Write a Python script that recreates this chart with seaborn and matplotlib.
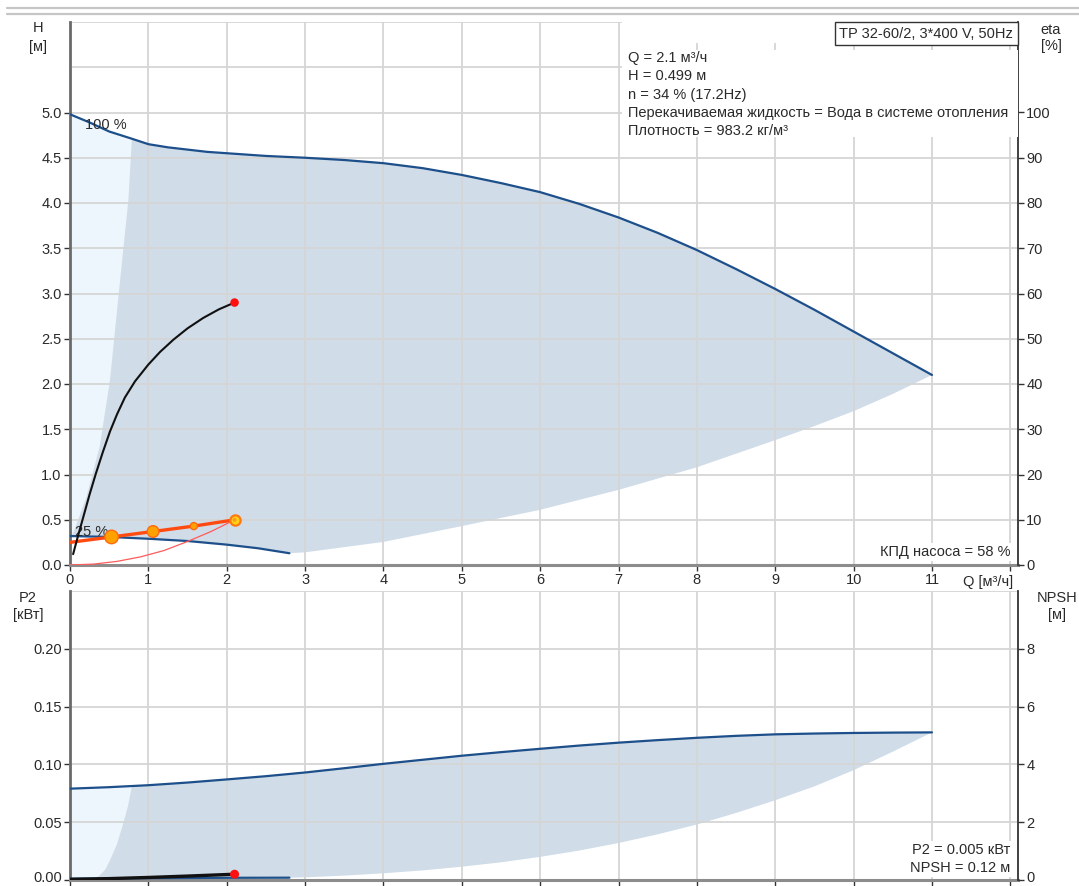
import matplotlib
matplotlib.use("Agg")
import numpy as np
import matplotlib.pyplot as plt
import seaborn as sns
from matplotlib.patches import Rectangle
from matplotlib.lines import Line2D
from matplotlib.transforms import ScaledTranslation

# ---------------- data ----------------
# Q-H curve at 100 % speed
q_100 = [0, 0.25, 0.5, 0.79, 1.0, 1.25, 1.5, 1.75, 2.0, 2.5, 3, 3.5, 4, 4.5, 5, 5.5,
         6, 6.5, 7, 7.5, 8, 8.5, 9, 9.5, 10, 10.5, 11]
h_100 = [4.98, 4.89, 4.79, 4.71, 4.65, 4.615, 4.59, 4.565, 4.55, 4.52, 4.50, 4.475,
         4.44, 4.385, 4.31, 4.22, 4.12, 3.99, 3.84, 3.67, 3.48, 3.27, 3.05, 2.82,
         2.58, 2.34, 2.10]
# Q-H curve at 25 % speed
q_25 = [0, 0.5, 1.0, 1.5, 2.0, 2.4, 2.8]
h_25 = [0.32, 0.31, 0.29, 0.265, 0.225, 0.185, 0.13]
# lower edge of the working range
q_min = [2.8, 3, 4, 5, 6, 7, 8, 9, 9.5, 10, 10.5, 11]
h_min = [0.13, 0.14, 0.255, 0.43, 0.61, 0.83, 1.08, 1.38, 1.535, 1.70, 1.89, 2.10]
# minimum-flow edge
q_edge = [0, 0.04, 0.21, 0.38, 0.51, 0.64, 0.745, 0.79]
h_edge = [0.32, 0.35, 0.75, 1.31, 2.04, 3.15, 4.03, 4.71]
# pump efficiency at the duty speed
q_eta = [0.04, 0.1, 0.16, 0.25, 0.33, 0.42, 0.51, 0.6, 0.7, 0.83, 1.0, 1.15, 1.32,
         1.5, 1.7, 1.9, 2.1]
eta = [2.4, 6.3, 10, 15.6, 20.2, 25, 29.5, 33.3, 37, 40.6, 44.3, 47.1, 49.8, 52.3,
       54.6, 56.5, 58]
# control curve and system curve
q_ctrl = [0, 0.53, 1.06, 1.58, 2.1]
h_ctrl = [0.25, 0.31, 0.37, 0.43, 0.499]
q_sys = [0, 0.3, 0.6, 0.9, 1.2, 1.5, 1.8, 2.1]
h_sys = [0, 0.01, 0.04, 0.09, 0.16, 0.26, 0.37, 0.499]

# duty point
q_op, h_op, eta_op, p2_op, npsh_op = 2.1, 0.499, 58, 0.005, 0.12

# P2 curves
q_p100 = [0, 0.5, 1, 1.5, 2, 2.5, 3, 3.5, 4, 4.5, 5, 5.5, 6, 6.5, 7, 7.5, 8, 8.5,
          9, 9.5, 10, 10.5, 11]
p_100 = [0.079, 0.0803, 0.082, 0.0843, 0.087, 0.0898, 0.093, 0.0967, 0.1005, 0.104,
         0.1075, 0.1106, 0.1135, 0.1163, 0.1188, 0.121, 0.123, 0.1247, 0.126, 0.1267,
         0.1272, 0.1275, 0.1277]
q_p25 = [0, 1, 2, 2.8]
p_25 = [0.0012, 0.0016, 0.0019, 0.002]
q_pmin = [2.8, 3, 3.5, 4, 4.5, 5, 5.5, 6, 6.5, 7, 7.5, 8, 8.5, 9, 9.5, 10, 10.5, 11]
p_min = [0.002, 0.0023, 0.0038, 0.0058, 0.0083, 0.0115, 0.0153, 0.020, 0.0255,
         0.032, 0.0395, 0.048, 0.058, 0.069, 0.081, 0.095, 0.111, 0.1277]
q_pedge = [0.26, 0.32, 0.38, 0.45, 0.51, 0.6, 0.68, 0.74, 0.79]
p_edge = [0.0, 0.0015, 0.004, 0.009, 0.017, 0.031, 0.049, 0.064, 0.081]
q_pop = [0, 0.5, 1.0, 1.5, 2.1]
p_pop = [0.0005, 0.0012, 0.0022, 0.0034, 0.005]

x_ticks = list(range(0, 13))
x_labels = [str(v) for v in range(0, 12)] + [""]
h_ticks = [round(0.5 * i, 1) for i in range(13)]
eta_ticks = list(range(0, 101, 10))
p_ticks = [0.0, 0.05, 0.10, 0.15, 0.20, 0.25]
npsh_ticks = [0, 2, 4, 6, 8]

info_lines = ["Q = 2.1 м³/ч", "H = 0.499 м", "n = 34 % (17.2Hz)",
              "Перекачиваемая жидкость = Вода в системе отопления",
              "Плотность = 983.2 кг/м³"]
title = "TP 32-60/2, 3*400 V, 50Hz"

# ---------------- style ----------------
sns.set_theme(style="whitegrid")
plt.rcParams["font.family"] = ["Liberation Sans", "DejaVu Sans"]
FS = 10.5
plt.rcParams["font.size"] = FS

CURVE = "#1D4F8B"
DARK_FILL = "#D0DCE7"
LIGHT_FILL = "#EDF5FD"
GRID = "#D5D5D5"
TXT = "#2A2A2A"

W, H = 1079, 886
fig = plt.figure(figsize=(W / 100, H / 100), dpi=100)
fig.patch.set_facecolor("white")

ax = fig.add_axes([70 / W, 1 - 565 / H, 948 / W, 543 / H])
ax2 = ax.twinx()
bx = fig.add_axes([70 / W, 1 - 880 / H, 948 / W, 289 / H])
bx2 = bx.twinx()

XMAX = 948 / 78.36


def style_pair(main, twin, ymax, yticks, ylabels, tymax, tticks):
    main.set_xlim(0, XMAX)
    main.set_ylim(0, ymax)
    twin.set_ylim(0, tymax)
    main.set_xticks(x_ticks)
    main.set_yticks(yticks)
    main.set_yticklabels(ylabels)
    twin.set_yticks(tticks)
    twin.set_yticklabels([str(t) for t in tticks])
    main.grid(True, color=GRID, lw=1.3)
    twin.grid(False)
    main.set_axisbelow(True)
    for s in ("top", "right"):
        main.spines[s].set_visible(False)
    for s in ("top", "left", "bottom"):
        twin.spines[s].set_visible(False)
    main.spines["left"].set_color("#6A6A6A")
    main.spines["left"].set_linewidth(2)
    main.spines["bottom"].set_color("#8C8C8C")
    main.spines["bottom"].set_linewidth(2.2)
    twin.spines["right"].set_color("#333333")
    twin.spines["right"].set_linewidth(1.3)
    main.tick_params(axis="both", which="both", bottom=True, left=True, length=4,
                     width=1, color="#333333", labelsize=FS, labelcolor=TXT, pad=2)
    twin.tick_params(axis="y", right=True, length=4, width=1, color="#333333",
                     labelsize=FS, labelcolor=TXT, pad=2)
    twin.patch.set_visible(False)
    main.set_xlabel("")
    main.set_ylabel("")
    twin.set_ylabel("")


style_pair(ax, ax2, 6, h_ticks,
           [f"{t:.1f}" if t <= 5.0 else "" for t in h_ticks], 120, eta_ticks)
ax.set_xticklabels(x_labels)
for t in ax.yaxis.get_major_ticks()[-2:]:
    t.tick1line.set_visible(False)

style_pair(bx, bx2, 0.25, p_ticks,
           [f"{t:.2f}" if t < 0.25 else "" for t in p_ticks], 10, npsh_ticks)
bx.set_xticklabels([""] * len(x_ticks))
bx.yaxis.get_major_ticks()[-1].tick1line.set_visible(False)

# ---------------- upper panel: Q-H ----------------
poly_x = q_100 + q_min[::-1] + q_25[::-1]
poly_y = h_100 + h_min[::-1] + h_25[::-1]
ax.fill(poly_x, poly_y, color=DARK_FILL, lw=0, zorder=0.3)
n_lt = sum(1 for q in q_100 if q <= q_edge[-1])
lt_x = q_100[:n_lt] + q_edge[::-1]
lt_y = h_100[:n_lt] + h_edge[::-1]
ax.fill(lt_x, lt_y, color=LIGHT_FILL, lw=0, zorder=0.35)

sns.lineplot(x=q_100, y=h_100, ax=ax, color=CURVE, lw=1.6, sort=False,
             estimator=None, zorder=3)
sns.lineplot(x=q_25, y=h_25, ax=ax, color=CURVE, lw=1.6, sort=False,
             estimator=None, zorder=3)
sns.lineplot(x=q_sys, y=h_sys, ax=ax, color="#FF5B5B", lw=0.9, sort=False,
             estimator=None, zorder=4)
sns.lineplot(x=q_ctrl, y=h_ctrl, ax=ax, color="#FF4A12", lw=2.4, sort=False,
             estimator=None, zorder=5)
ax.scatter(q_ctrl[1:4], h_ctrl[1:4], s=[95, 70, 26], color="#FFA200",
           edgecolors="#FF6A10", linewidths=1.0, zorder=6)
ax.scatter([q_op], [h_op], s=55, color="#FFD21A", edgecolors="#FF7A10",
           linewidths=1.6, zorder=7)
ax.scatter([q_op], [h_op], s=8, color="#FF9A20", edgecolors="none", zorder=8)

sns.lineplot(x=q_eta, y=eta, ax=ax2, color="#111111", lw=1.5, sort=False,
             estimator=None, zorder=3)
ax2.scatter([q_op], [eta_op], s=38, color="#FF1010", edgecolors="none", zorder=6)

ax.text(0.19, 4.86, "100 %", fontsize=FS, color=TXT, va="center", ha="left",
        zorder=4)
ax.text(0.06, 0.37, "25 %", fontsize=FS, color=TXT, va="center", ha="left",
        zorder=4)

# information block
ax2.add_patch(Rectangle((552 / 948, (565 - 137) / 543), 396 / 948, 87 / 543,
                        transform=ax.transAxes, fc="white", ec="none", zorder=8))
ax2.add_patch(Rectangle((552 / 948, (565 - 43) / 543), 263 / 948, 21 / 543,
                        transform=ax.transAxes, fc="white", ec="none", zorder=8))
for i, line in enumerate(info_lines):
    ax2.text((628 - 70) / 948, (565 - (58 + 18.3 * i)) / 543, line,
             transform=ax.transAxes, fontsize=FS, color=TXT, va="center",
             ha="left", zorder=9)
ax2.text((1013.3 - 70) / 948, (565 - 26.7) / 543, title, transform=ax.transAxes,
         fontsize=FS, color=TXT, va="top", ha="right", zorder=9,
         bbox=dict(boxstyle="square,pad=0.32", fc="white", ec="#333333", lw=1))
ax2.text((1010 - 70) / 948, (565 - 552) / 543, f"КПД насоса = {eta_op} %",
         transform=ax.transAxes, fontsize=FS, color=TXT, va="center", ha="right",
         zorder=9, bbox=dict(boxstyle="square,pad=0.12", fc="white", ec="none"))
ax.annotate("Q [м³/ч]", xy=(12.04, 0), xycoords=("data", "axes fraction"),
            xytext=(0, -7.5), textcoords="offset points", ha="right", va="top",
            fontsize=FS, color=TXT, annotation_clip=False)

# ---------------- lower panel: P2 ----------------
pp_x = q_p100 + q_pmin[::-1] + q_p25[::-1]
pp_y = p_100 + p_min[::-1] + p_25[::-1]
bx.fill(pp_x, pp_y, color=DARK_FILL, lw=0, zorder=0.3)
pl_x = [q_p100[0], q_p100[1]] + q_pedge[::-1] + [0]
pl_y = [p_100[0], p_100[1]] + p_edge[::-1] + [0]
bx.fill(pl_x, pl_y, color=LIGHT_FILL, lw=0, zorder=0.35)

sns.lineplot(x=q_p100, y=p_100, ax=bx, color=CURVE, lw=1.6, sort=False,
             estimator=None, zorder=3)
sns.lineplot(x=q_p25, y=p_25, ax=bx, color=CURVE, lw=1.6, sort=False,
             estimator=None, zorder=3)
sns.lineplot(x=q_pop, y=p_pop, ax=bx, color="#111111", lw=2.4, sort=False,
             estimator=None, zorder=4)
bx.scatter([q_op], [p2_op], s=42, color="#FF1010", edgecolors="none", zorder=6,
           clip_on=False)

bx2.text((1010 - 70) / 948, (880 - 850) / 289, f"P2 = {p2_op} кВт",
         transform=bx.transAxes, fontsize=FS, color=TXT, va="center", ha="right",
         zorder=9, bbox=dict(boxstyle="square,pad=0.12", fc="white", ec="none"))
bx2.text((1010 - 70) / 948, (880 - 868) / 289, f"NPSH = {npsh_op} м",
         transform=bx.transAxes, fontsize=FS, color=TXT, va="center", ha="right",
         zorder=9, bbox=dict(boxstyle="square,pad=0.12", fc="white", ec="none"))

# lift the two zero labels at the very bottom edge so they stay on the canvas
lift = ScaledTranslation(0, 3.5 / 100, fig.dpi_scale_trans)
z1 = bx.yaxis.get_major_ticks()[0].label1
z1.set_transform(z1.get_transform() + lift)
z2 = bx2.yaxis.get_major_ticks()[0].label2
z2.set_transform(z2.get_transform() + lift)

# axis captions
fig.text(38 / W, 1 - 28 / H, "H", ha="center", va="center", fontsize=FS, color=TXT)
fig.text(38 / W, 1 - 47 / H, "[м]", ha="center", va="center", fontsize=FS, color=TXT)
fig.text(1051 / W, 1 - 30 / H, "eta", ha="center", va="center", fontsize=FS, color=TXT)
fig.text(1051 / W, 1 - 46 / H, "[%]", ha="center", va="center", fontsize=FS, color=TXT)
fig.text(28 / W, 1 - 598 / H, "P2", ha="center", va="center", fontsize=FS, color=TXT)
fig.text(28 / W, 1 - 615 / H, "[кВт]", ha="center", va="center", fontsize=FS, color=TXT)
fig.text(1057 / W, 1 - 598 / H, "NPSH", ha="center", va="center", fontsize=FS, color=TXT)
fig.text(1057 / W, 1 - 615 / H, "[м]", ha="center", va="center", fontsize=FS, color=TXT)

# double rule across the top
for yy in (8, 13.5):
    fig.add_artist(Line2D([7 / W, 1], [1 - yy / H, 1 - yy / H],
                          transform=fig.transFigure, color="#C6C6C6", lw=1.6))

fig.savefig("out.png", dpi=100, facecolor="white")
